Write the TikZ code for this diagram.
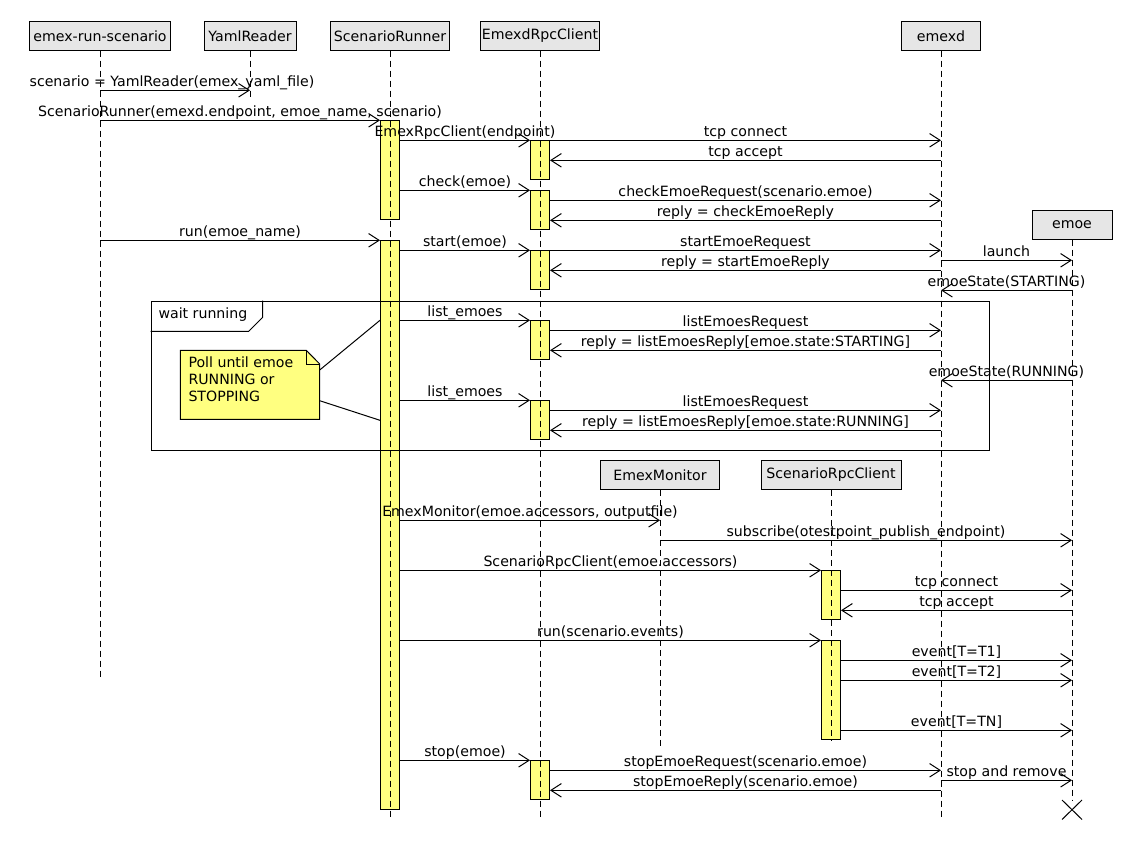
\documentclass[tikz,border=0pt]{standalone}
\usepackage{fontspec}
\setmainfont{DejaVu Sans}
\usetikzlibrary{arrows.meta}
\definecolor{hdrfill}{HTML}{E6E6E6}
\definecolor{actfill}{HTML}{FFFF80}
\begin{document}
\begin{tikzpicture}[x=1pt,y=-1pt,line width=1pt,
  every node/.style={font=\fontsize{14.15}{17}\selectfont},
  hdr/.style={draw, fill=hdrfill, minimum height=28.5pt, inner sep=0pt, anchor=north},
  act/.style={draw, fill=actfill, minimum width=19pt, inner sep=0pt, anchor=north},
  life/.style={dash pattern=on 6pt off 4pt},
  msg/.style={-{Straight Barb[length=10.5pt,width=13.5pt]}},
  lbl/.style={midway, anchor=base, yshift=4pt, inner sep=0pt},
  txt/.style={anchor=base west, inner sep=0pt}]

\fill[white] (0,0) rectangle (1130,860);
\useasboundingbox (0,0) rectangle (1130,860);

% participants
\node[hdr, minimum width=141pt] (ers)   at (100,21)    {emex-run-scenario};
\node[hdr, minimum width=92pt]  (yr)    at (250,21)    {YamlReader};
\node[hdr, minimum width=119pt] (sr)    at (390,21)    {ScenarioRunner};
\node[hdr, minimum width=119pt] (erc)   at (540,21)    {EmexdRpcClient};
\node[hdr, minimum width=79pt]  (emexd) at (941,21)    {emexd};
\node[hdr, minimum width=80pt]  (emoe)  at (1072,210)  {emoe};
\node[hdr, minimum width=119pt] (em)    at (660,460.3) {EmexMonitor};
\node[hdr, minimum width=140pt] (src)   at (831,460.3) {ScenarioRpcClient};

% activation bars
\node[act, minimum height=99pt]  (sr1)  at (390,120.3) {};
\node[act, minimum height=569pt] (sr2)  at (390,240.3) {};
\node[act, minimum height=39pt]  (erc1) at (540,140.3) {};
\node[act, minimum height=39pt]  (erc2) at (540,190.3) {};
\node[act, minimum height=39pt]  (erc3) at (540,250.3) {};
\node[act, minimum height=39pt]  (erc4) at (540,320.3) {};
\node[act, minimum height=39pt]  (erc5) at (540,400.3) {};
\node[act, minimum height=39pt]  (erc6) at (540,760.3) {};
\node[act, minimum height=49pt]  (src1) at (831,570.3) {};
\node[act, minimum height=99pt]  (src2) at (831,640.3) {};

% lifelines
\coordinate (ersEnd)   at (100,680);
\coordinate (yrEnd)    at (250,100);
\coordinate (srEnd)    at (390,820);
\coordinate (ercEnd)   at (540,820);
\coordinate (emexdEnd) at (941,820);
\coordinate (emoeEnd)  at (1072,800);
\coordinate (emEnd)    at (660,746);
\coordinate (srcEnd)   at (831,740);
\draw[life] (ers.south)   -- (ersEnd);
\draw[life] (yr.south)    -- (yrEnd);
\draw[life] (sr.south)    -- (srEnd);
\draw[life] (erc.south)   -- (ercEnd);
\draw[life] (emexd.south) -- (emexdEnd);
\draw[life] (emoe.south)  -- (emoeEnd);
\draw[life] (em.south)    -- (emEnd);
\draw[life] (src.south)   -- (srcEnd);

% destruction mark
\coordinate (xa) at (1062,800);
\coordinate (xb) at (1082,819.5);
\coordinate (xc) at (1062,819.5);
\coordinate (xd) at (1082,800);
\draw (xa) -- (xb);
\draw (xc) -- (xd);

% loop frame
\node[draw, minimum width=838.5pt, minimum height=149pt, inner sep=0pt, anchor=north west] (loop) at (150.7,300.5) {};
\draw (loop.north west |- 0,331.3) -- (248.7,331.3) -- (262.7,317.3) -- (262.7,300.5);
\node[txt] (looplbl) at (158,318) {wait running};

% note
\draw[fill=actfill] (180.3,350.3) -- (306.3,350.3) -- (319.7,364) -- (319.7,419.3) -- (180.3,419.3) -- cycle;
\draw (306.3,350.3) -- (306.3,364) -- (319.7,364);
\node[txt] (note1) at (188,367.7) {Poll until emoe};
\node[txt] (note2) at (188,384.5) {RUNNING or};
\node[txt] (note3) at (188,401.5) {STOPPING};
\coordinate (noteA) at (319.7,370);
\coordinate (noteB) at (319.7,400.7);
\draw (noteA) -- (sr2.west |- 0,320.3);
\draw (noteB) -- (sr2.west |- 0,420.3);

% messages
\draw[msg] (ers.south |- 0,90.3) -- (yr.south |- 0,90.3) node[lbl, xshift=-3pt]{scenario = YamlReader(emex\_yaml\_file)};
\draw[msg] (ers.south |- 0,120.3) -- (sr1.north west) node[lbl]{ScenarioRunner(emexd.endpoint, emoe\_name, scenario)};
\draw[msg] (sr1.east |- 0,140.3) -- (erc1.north west) node[lbl]{EmexRpcClient(endpoint)};
\draw[msg] (erc1.north east) -- (emexd.south |- 0,140.3) node[lbl]{tcp connect};
\draw[msg] (emexd.south |- 0,160.3) -- (erc1.east |- 0,160.3) node[lbl]{tcp accept};
\draw[msg] (sr1.east |- 0,190.3) -- (erc2.north west) node[lbl]{check(emoe)};
\draw[msg] (erc2.east |- 0,200.3) -- (emexd.south |- 0,200.3) node[lbl]{checkEmoeRequest(scenario.emoe)};
\draw[msg] (emexd.south |- 0,220.3) -- (erc2.east |- 0,220.3) node[lbl]{reply = checkEmoeReply};
\draw[msg] (ers.south |- 0,240.3) -- (sr2.north west) node[lbl]{run(emoe\_name)};
\draw[msg] (sr2.east |- 0,250.3) -- (erc3.north west) node[lbl]{start(emoe)};
\draw[msg] (erc3.north east) -- (emexd.south |- 0,250.3) node[lbl]{startEmoeRequest};
\draw[msg] (emexd.south |- 0,260.3) -- (emoe.south |- 0,260.3) node[lbl]{launch};
\draw[msg] (emexd.south |- 0,270.3) -- (erc3.east |- 0,270.3) node[lbl]{reply = startEmoeReply};
\draw[msg] (emoe.south |- 0,290.3) -- (emexd.south |- 0,290.3) node[lbl]{emoeState(STARTING)};
\draw[msg] (sr2.east |- 0,320.3) -- (erc4.north west) node[lbl]{list\_emoes};
\draw[msg] (erc4.east |- 0,330.3) -- (emexd.south |- 0,330.3) node[lbl]{listEmoesRequest};
\draw[msg] (emexd.south |- 0,350.3) -- (erc4.east |- 0,350.3) node[lbl]{reply = listEmoesReply[emoe.state:STARTING]};
\draw[msg] (emoe.south |- 0,380.3) -- (emexd.south |- 0,380.3) node[lbl]{emoeState(RUNNING)};
\draw[msg] (sr2.east |- 0,400.3) -- (erc5.north west) node[lbl]{list\_emoes};
\draw[msg] (erc5.east |- 0,410.3) -- (emexd.south |- 0,410.3) node[lbl]{listEmoesRequest};
\draw[msg] (emexd.south |- 0,430.3) -- (erc5.east |- 0,430.3) node[lbl]{reply = listEmoesReply[emoe.state:RUNNING]};
\draw[msg] (sr2.east |- 0,520.3) -- (em.south |- 0,520.3) node[lbl]{EmexMonitor(emoe.accessors, outputfile)};
\draw[msg] (em.south |- 0,540.3) -- (emoe.south |- 0,540.3) node[lbl]{subscribe(otestpoint\_publish\_endpoint)};
\draw[msg] (sr2.east |- 0,570.3) -- (src1.north west) node[lbl]{ScenarioRpcClient(emoe.accessors)};
\draw[msg] (src1.east |- 0,590.3) -- (emoe.south |- 0,590.3) node[lbl]{tcp connect};
\draw[msg] (emoe.south |- 0,610.3) -- (src1.east |- 0,610.3) node[lbl]{tcp accept};
\draw[msg] (sr2.east |- 0,640.3) -- (src2.north west) node[lbl]{run(scenario.events)};
\draw[msg] (src2.east |- 0,660.3) -- (emoe.south |- 0,660.3) node[lbl]{event[T=T1]};
\draw[msg] (src2.east |- 0,680.3) -- (emoe.south |- 0,680.3) node[lbl]{event[T=T2]};
\draw[msg] (src2.east |- 0,730.3) -- (emoe.south |- 0,730.3) node[lbl]{event[T=TN]};
\draw[msg] (sr2.east |- 0,760.3) -- (erc6.north west) node[lbl]{stop(emoe)};
\draw[msg] (erc6.east |- 0,770.3) -- (emexd.south |- 0,770.3) node[lbl]{stopEmoeRequest(scenario.emoe)};
\draw[msg] (emexd.south |- 0,780.3) -- (emoe.south |- 0,780.3) node[lbl]{stop and remove};
\draw[msg] (emexd.south |- 0,790.3) -- (erc6.east |- 0,790.3) node[lbl]{stopEmoeReply(scenario.emoe)};

\end{tikzpicture}
\end{document}
